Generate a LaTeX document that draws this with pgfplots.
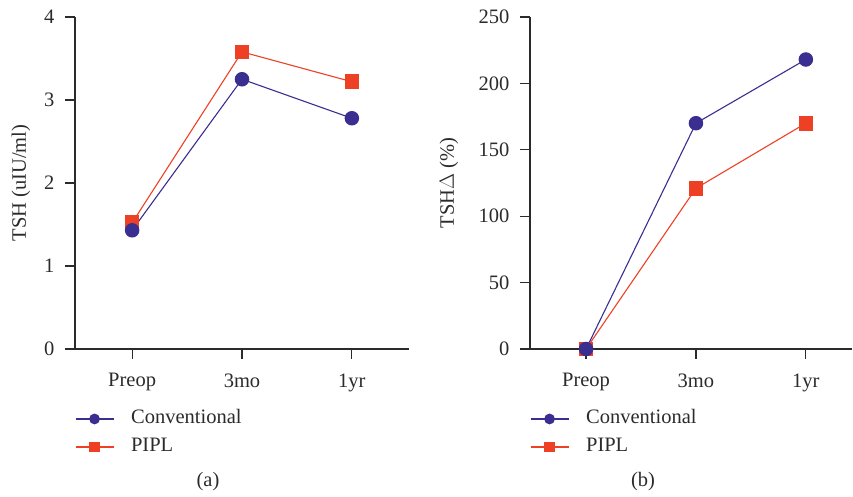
\documentclass[border=0pt]{standalone}
\usepackage{pgfplots}
\pgfplotsset{compat=1.18}
\usepackage{fontspec}
\setmainfont{Liberation Serif}
\definecolor{cblue}{HTML}{3A2E91}
\definecolor{cred}{HTML}{EE4024}
\definecolor{axgray}{HTML}{2B2B2B}
\newcommand{\fs}{\fontsize{20.5}{24}\selectfont}
\pgfplotsset{
  common/.style={
    scale only axis,
    anchor=south west,
    axis lines=left,
    axis line style={-, axgray, line width=1.2pt},
    tick style={axgray, line width=1.2pt},
    tick align=outside,
    major tick length=10pt,
    /pgf/number format/assume math mode=true,
    font=\fs,
    tick label style={font=\fs, text=axgray},
    xtick={0,1,2},
    xticklabels={Preop,3mo,1yr},
    xticklabel style={yshift=-11pt},
    yticklabel style={xshift=-7pt},
    ymin=0,
    clip=false,
    legend cell align=left,
    legend style={draw=none, fill=none, inner sep=0pt, outer sep=0pt,
      font=\fs, text=axgray,
      nodes={inner sep=0pt, text height=13pt, text depth=3pt},
      row sep=12pt,
      /tikz/every odd column/.append style={column sep=17pt},
      anchor=north west, at={(axis description cs:0,-0.1867)}},
    legend image code/.code={
      \draw[#1, mark size=4.8pt, mark repeat=2, mark phase=2] plot coordinates {(0pt,0pt) (19pt,0pt) (38pt,0pt)};
    },
  },
  conv/.style={cblue, line width=1.1pt, mark=*, mark size=6.7pt, mark options={solid, fill=cblue, draw=cblue}},
  pipl/.style={cred, line width=1.1pt, mark=square*, mark size=6.8pt, mark options={solid, fill=cred, draw=cred}},
}
\begin{document}
\begin{tikzpicture}[x=1pt,y=1pt]
\useasboundingbox (0,0) rectangle (853,497);
% left panel
\begin{axis}[common,
  at={(75pt,148pt)}, width=334pt, height=332pt,
  xmin=-0.52, xmax=2.52, ymax=4, ytick={0,1,2,3,4},
  ylabel={TSH (uIU/ml)},
  ylabel style={at={(axis description cs:-0.162,0.5)}, anchor=center, text=axgray},
]
\addplot[pipl] coordinates {(0,1.52) (1,3.58) (2,3.22)};
\addplot[conv] coordinates {(0,1.43) (1,3.25) (2,2.78)};
\legend{}
\end{axis}
\begin{axis}[common,
  at={(75pt,148pt)}, width=334pt, height=332pt,
  xmin=-0.52, xmax=2.52, ymax=4, hide axis,
]
\addlegendimage{conv}\addlegendentry{Conventional}
\addlegendimage{pipl}\addlegendentry{PIPL}
\end{axis}
\draw[axgray, line width=1.2pt] (65,148) -- (75,148);
% right panel
\begin{axis}[common,
  at={(530pt,148pt)}, width=322pt, height=332pt,
  xmin=-0.51, xmax=2.42, ymax=250, ytick={0,50,100,150,200,250},
  ylabel={TSH$\Delta$ (\%)},
  ylabel style={at={(axis description cs:-0.2516,0.5)}, anchor=center, text=axgray},
]
\addplot[pipl] coordinates {(0,0) (1,121) (2,170)};
\addplot[conv] coordinates {(0,0) (1,170) (2,218)};
\legend{}
\end{axis}
\begin{axis}[common,
  at={(530pt,148pt)}, width=322pt, height=332pt,
  xmin=-0.51, xmax=2.42, ymax=250, hide axis,
]
\addlegendimage{conv}\addlegendentry{Conventional}
\addlegendimage{pipl}\addlegendentry{PIPL}
\end{axis}
\draw[axgray, line width=1.2pt] (521,148) -- (530,148);
\node[text=axgray, font=\fs] at (208,15) {(a)};
\node[text=axgray, font=\fs] at (643,15) {(b)};
\end{tikzpicture}
\end{document}
